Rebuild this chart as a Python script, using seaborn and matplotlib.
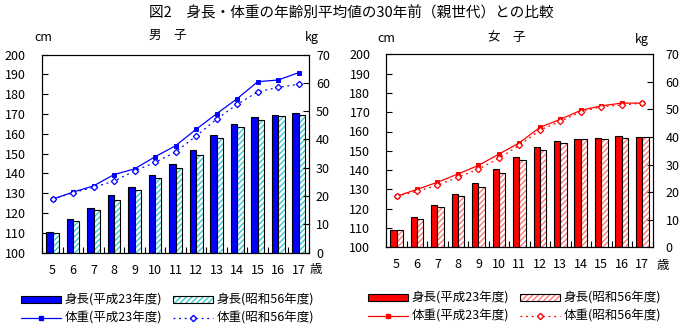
import numpy as np
import pandas as pd
import matplotlib
matplotlib.use("Agg")
import matplotlib.pyplot as plt
import seaborn as sns
from matplotlib.patches import Patch, Rectangle
from matplotlib.lines import Line2D
from matplotlib.legend_handler import HandlerTuple

# ---------------- data ----------------
ages = ["5", "6", "7", "8", "9", "10", "11", "12", "13", "14", "15", "16", "17"]
year_new = "平成23年度"
year_old = "昭和56年度"

boys_height_h23 = [110.5, 116.8, 122.5, 128.9, 133.1, 139.0, 144.7, 151.8, 159.2, 164.8, 168.7, 169.4, 170.4]
boys_height_s56 = [109.9, 116.0, 121.5, 126.5, 131.6, 137.5, 142.6, 149.2, 157.7, 163.4, 166.8, 168.8, 169.3]
boys_weight_h23 = [18.9, 21.4, 23.6, 27.6, 29.6, 33.9, 37.8, 43.6, 49.1, 54.4, 60.4, 61.0, 63.6]
boys_weight_s56 = [18.9, 21.2, 23.1, 25.3, 28.9, 31.9, 35.6, 41.2, 47.2, 52.4, 56.8, 58.4, 59.5]

girls_height_h23 = [108.8, 115.5, 121.8, 127.5, 133.2, 140.4, 146.6, 151.8, 154.9, 156.0, 156.5, 157.5, 157.0]
girls_height_s56 = [108.8, 114.5, 120.7, 126.4, 131.1, 138.3, 145.1, 150.3, 153.9, 156.0, 156.0, 156.5, 157.0]
girls_weight_h23 = [18.5, 21.0, 23.6, 26.6, 29.7, 33.8, 37.9, 43.5, 46.4, 49.7, 51.3, 52.3, 52.3]
girls_weight_s56 = [18.5, 20.3, 22.5, 25.4, 28.3, 32.3, 37.0, 42.5, 45.7, 49.1, 51.0, 51.6, 52.3]

title = "図2　身長・体重の年齢別平均値の30年前（親世代）との比較"

# ---------------- style ----------------
sns.set_theme(style="white")
plt.rcParams["font.family"] = ["Noto Sans CJK JP", "DejaVu Sans"]
plt.rcParams["hatch.linewidth"] = 1.0
plt.rcParams["axes.edgecolor"] = "black"
plt.rcParams["axes.linewidth"] = 0.8
plt.rcParams["text.color"] = "black"

W, H = 686, 331
fig = plt.figure(figsize=(W / 100, H / 100), dpi=100)
fig.patch.set_facecolor("white")


def px_axes(x0, x1, ytop, ybot):
    return fig.add_axes([x0 / W, 1 - ybot / H, (x1 - x0) / W, (ybot - ytop) / H])


FS = 9
MS_SQ = 3.0
MS_DI = 3.2


def draw_panel(ax, h_new, h_old, w_new, w_old, main, hatch_col, lpad, rpad):
    df = pd.DataFrame({
        "age": ages * 2,
        "year": [year_new] * len(ages) + [year_old] * len(ages),
        "height": h_new + h_old,
    })
    sns.barplot(data=df, x="age", y="height", hue="year",
                hue_order=[year_new, year_old], palette=[main, "white"],
                width=0.62, edgecolor="black", linewidth=0.8, saturation=1,
                errorbar=None, legend=False, ax=ax, zorder=2)
    for p in ax.containers[1]:
        p.set_hatch("//////")
        p.set_edgecolor(hatch_col)
        p.set_linewidth(0)
        ax.add_patch(Rectangle(p.get_xy(), p.get_width(), p.get_height(),
                               fill=False, edgecolor="black", linewidth=0.8, zorder=3))
    ax.set_ylim(100, 200)
    ax.set_yticks(np.arange(100, 201, 10))
    ax.set_xlabel("")
    ax.set_ylabel("")
    ax.set_xticks(np.arange(-0.5, len(ages), 1), minor=True)
    ax.tick_params(axis="x", which="major", length=0, pad=8, labelsize=FS, colors="black")
    ax.tick_params(axis="x", which="minor", direction="in", length=4, width=0.8,
                   bottom=True, color="black")
    ax.tick_params(axis="y", which="major", direction="in", length=4, width=0.8,
                   left=True, pad=lpad, labelsize=FS, colors="black")
    for s in ax.spines.values():
        s.set_visible(True)
        s.set_color("black")
        s.set_linewidth(0.8)

    ax2 = ax.twinx()
    sns.pointplot(x=ages, y=w_new, ax=ax2, color=main, markers="s", linestyles="-",
                  linewidth=0.9, markersize=MS_SQ, errorbar=None)
    sns.pointplot(x=ages, y=w_old, ax=ax2, color=main, markers="D", linestyles=":",
                  linewidth=0.9, markersize=MS_DI, errorbar=None)
    l_old = ax2.lines[-1]
    l_old.set_linestyle((0, (1.5, 3)))
    l_old.set_markerfacecolor("white")
    l_old.set_markeredgecolor(main)
    l_old.set_markeredgewidth(0.9)
    ax2.set_ylim(0, 70)
    ax2.set_yticks(np.arange(0, 71, 10))
    ax2.set_ylabel("")
    ax2.set_xlabel("")
    ax2.tick_params(axis="y", direction="in", length=4, width=0.8, right=True,
                    pad=rpad, labelsize=FS, colors="black")
    for s in ax2.spines.values():
        s.set_color("black")
        s.set_linewidth(0.8)
    ax2.grid(False)
    ax.grid(False)
    return ax2


def add_legends(main, hatch_col, x_h1, x_h2, yc):
    h_bar_new = Patch(facecolor=main, edgecolor="black", linewidth=0.8)
    h_bar_old = (Patch(facecolor="white", edgecolor=hatch_col, hatch="//////", linewidth=0),
                 Patch(fill=False, edgecolor="black", linewidth=0.8))
    h_line_new = Line2D([], [], color=main, lw=0.9, marker="s", markersize=MS_SQ)
    h_line_old = Line2D([], [], color=main, lw=0.9, linestyle=(0, (1.5, 3)), marker="D",
                        markersize=MS_DI, markerfacecolor="white", markeredgecolor=main)
    common = dict(loc="center left", frameon=False, borderpad=0, borderaxespad=0,
                  handlelength=3.2, handleheight=0.58, handletextpad=0.27,
                  labelspacing=0.4, numpoints=1, fontsize=FS,
                  handler_map={tuple: HandlerTuple(ndivide=1, pad=0)})
    fig.legend([h_bar_new, h_line_new],
               [f"身長({year_new})", f"体重({year_new})"],
               bbox_to_anchor=(x_h1 / W, 1 - yc / H), **common)
    fig.legend([h_bar_old, h_line_old],
               [f"身長({year_old})", f"体重({year_old})"],
               bbox_to_anchor=(x_h2 / W, 1 - yc / H), **common)


axL = px_axes(42.3, 309.0, 54.5, 252.7)
draw_panel(axL, boys_height_h23, boys_height_s56, boys_weight_h23, boys_weight_s56,
           "#0000FF", "#33CCCC", lpad=12, rpad=5)
axR = px_axes(386.3, 652.5, 54.3, 247.3)
draw_panel(axR, girls_height_h23, girls_height_s56, girls_weight_h23, girls_weight_s56,
           "#FF0000", "#FF7777", lpad=11.5, rpad=9.5)

add_legends("#0000FF", "#33CCCC", 21, 173.3, 309.3)
add_legends("#FF0000", "#FF7777", 368.3, 520.3, 307.4)


def ftext(x, y, s, size=FS, **kw):
    fig.text(x / W, 1 - y / H, s, ha="center", va="center", fontsize=size, **kw)


ftext(351, 13, title, size=10.5)
ftext(168, 35, "男　子")
ftext(507, 37, "女　子")
ftext(43.5, 37.7, "cm")
ftext(386.5, 39, "cm")
ftext(311.6, 38, "kg")
ftext(641.7, 39, "kg")
ftext(316, 270, "歳")
ftext(663, 266, "歳")

fig.savefig("out.png", dpi=100, facecolor="white")
